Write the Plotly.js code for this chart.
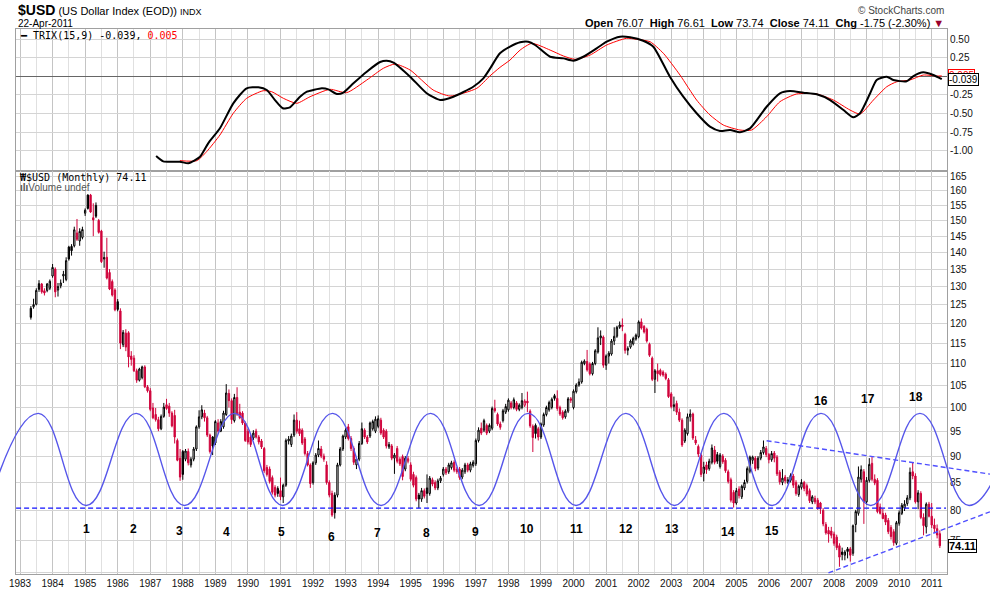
<!DOCTYPE html>
<html><head><meta charset="utf-8">
<script src="https://cdn.plot.ly/plotly-3.0.1.min.js"></script>
<style>html,body{margin:0;padding:0;background:#fff}#chart{width:990px;height:591px}</style>
</head><body><div id="chart"></div>
<script>
// ---------- DATA ----------
const firstYear = 1983, firstMonth = 5; // first monthly candle: May 1983, last: April 2011
const opens = [
 124.0,124.4,125.1,130.8,130.7,128.8,128.9,129.5,
 133.0,135.0,129.0,130.2,133.0,132.0,141.6,141.8,142.0,146.0,143.5,144.6,
 152.4,158.5,158.5,150.9,155.0,150.0,146.6,138.0,138.5,134.0,131.4,129.0,
 125.8,123.3,114.6,117.5,117.6,111.8,111.3,108.3,106.1,106.7,109.2,104.6,
 103.7,99.9,98.5,97.4,95.5,98.1,100.6,100.3,98.8,98.3,93.1,89.6,
 90.9,89.4,90.9,88.3,89.4,91.4,95.9,98.0,98.8,97.8,94.2,93.8,
 92.6,96.7,95.0,95.9,98.5,103.1,101.5,97.2,102.2,99.0,98.8,96.7,
 95.0,93.8,93.6,95.0,93.8,93.0,91.5,87.8,87.5,85.9,84.1,83.9,
 83.5,82.4,84.5,93.0,92.3,94.2,97.3,95.5,95.2,93.4,90.5,88.3,
 85.0,88.7,90.2,91.4,90.0,88.3,85.0,83.0,82.7,82.7,88.3,91.4,
 93.8,95.9,93.5,91.5,88.3,89.4,92.5,95.2,93.8,94.0,95.5,95.0,
 96.0,97.3,95.2,95.0,91.8,92.0,89.6,91.5,89.4,89.9,87.5,89.0,
 88.3,86.5,85.9,82.7,82.0,83.5,84.0,83.0,85.5,85.0,84.0,85.3,
 86.5,87.5,87.0,87.8,88.8,87.5,87.5,86.0,87.0,88.3,87.3,88.2,
 88.5,93.1,95.6,95.2,96.2,95.0,95.6,99.8,98.5,96.5,97.2,99.0,
 99.5,101.0,100.0,101.0,99.6,100.0,100.5,101.4,99.2,96.0,96.2,95.5,
 93.8,96.3,98.5,99.5,100.0,102.6,102.0,100.0,99.0,98.0,99.2,101.9,
 100.0,103.5,105.0,105.7,110.0,110.5,109.9,107.6,110.0,112.8,116.3,116.5,
 109.6,111.8,112.3,115.5,116.7,119.0,119.6,117.2,113.2,114.0,114.8,116.0,
 116.6,120.4,119.2,118.5,114.7,111.3,106.3,108.3,108.4,108.0,107.5,106.2,
 103.0,100.2,100.9,99.0,97.3,93.0,94.5,98.0,98.6,93.2,91.9,90.2,
 86.7,88.3,87.6,88.8,91.2,90.3,88.0,90.0,89.2,87.0,85.5,83.2,
 81.3,83.8,82.4,84.0,85.2,87.1,89.2,89.6,87.7,89.6,90.7,91.5,
 90.3,89.3,90.6,89.8,86.9,85.0,86.0,85.0,85.4,86.2,85.0,82.8,
 84.1,85.0,84.4,83.5,81.5,82.1,81.8,81.3,80.0,77.6,76.6,76.5,
 76.0,75.5,74.1,73.1,72.6,73.6,73.6,72.9,77.6,79.5,85.6,87.0,
 81.5,85.4,88.6,85.6,85.4,80.6,79.5,79.2,78.3,77.1,76.4,74.5,
 77.8,79.5,80.4,81.2,82.2,87.0,86.2,81.5,83.0,78.8,77.2,81.1,
 79.0,77.5,76.9,76.07];
const highs = [
 124.6,126.6,129.5,131.8,131.0,129.5,131.0,132.0,
 136.5,135.5,131.0,132.0,134.5,138.5,142.0,142.5,148.0,150.5,147.5,148.0,
 154.0,158.8,158.9,155.7,156.0,150.5,147.0,140.2,144.5,135.0,132.0,129.5,
 126.5,124.0,118.3,118.5,118.0,113.0,112.0,108.8,109.0,109.5,109.6,105.0,
 104.3,101.0,99.9,98.0,98.5,101.0,101.9,101.0,99.2,99.5,93.5,91.4,
 91.2,91.4,91.5,89.8,91.8,96.2,99.4,100.5,99.5,98.2,94.5,94.0,
 97.3,97.5,97.5,99.3,105.2,104.0,102.0,103.0,104.5,100.8,99.2,97.0,
 95.5,94.3,95.2,95.5,94.2,93.4,91.8,88.3,88.0,86.3,84.5,84.3,
 85.9,84.8,93.5,94.0,94.5,98.5,99.0,97.2,95.6,93.8,91.0,88.6,
 89.0,90.6,93.1,92.0,90.5,89.0,85.4,83.5,83.2,88.7,91.8,94.3,
 95.6,96.5,94.0,91.9,89.8,93.0,96.8,95.6,94.2,97.0,97.4,98.1,
 98.3,97.8,95.6,95.4,92.8,92.4,90.6,92.0,89.8,90.3,90.0,90.0,
 88.8,87.0,86.3,83.1,84.0,83.9,86.5,86.2,85.9,85.4,85.7,86.2,
 87.9,87.9,88.7,89.1,89.2,87.9,87.9,87.7,88.7,88.7,88.9,89.2,
 93.5,95.8,96.8,97.6,96.6,96.6,100.2,101.7,98.9,97.0,99.7,100.8,
 102.0,101.4,102.2,101.4,100.9,103.2,101.8,103.5,99.6,96.4,96.6,95.9,
 96.8,98.9,100.4,101.5,102.2,103.0,103.8,100.4,99.4,99.6,102.3,102.3,
 104.0,105.4,106.5,110.7,111.0,113.3,110.3,110.4,113.5,119.0,118.2,116.9,
 112.2,113.0,116.0,119.0,119.4,120.5,121.3,117.6,114.2,115.9,116.6,117.4,
 120.8,121.3,119.6,118.9,115.1,111.7,108.7,110.0,108.8,108.4,107.9,106.6,
 103.4,102.4,101.5,99.8,97.7,95.6,98.7,99.6,98.9,94.0,92.3,90.6,
 88.9,88.9,89.5,92.3,92.0,90.8,90.6,90.4,89.6,87.4,85.9,83.6,
 84.0,84.3,84.6,85.5,88.0,90.1,90.1,90.0,90.0,91.2,93.1,92.0,
 90.6,91.0,91.0,90.2,87.3,87.5,86.4,86.0,86.7,86.6,85.4,84.6,
 85.6,85.3,84.8,83.9,82.7,82.6,82.2,81.5,80.4,78.0,77.2,77.2,
 76.4,75.9,74.5,73.8,73.4,73.9,73.9,77.6,80.1,88.0,88.2,87.5,
 86.0,89.6,89.9,86.5,85.8,81.2,80.3,79.6,78.7,77.5,76.8,78.2,
 80.0,81.3,81.8,82.7,87.8,88.7,86.7,83.6,83.4,79.5,81.4,81.5,
 81.3,78.6,77.6,76.61];
const lows = [
 121.0,123.9,124.8,128.5,128.0,127.5,128.4,129.0,
 132.5,127.0,127.2,129.5,131.0,131.5,137.5,139.0,141.5,143.5,142.0,144.0,
 151.5,153.6,152.5,145.0,150.8,145.8,136.8,135.4,132.0,129.0,127.2,123.2,
 123.2,113.5,114.0,113.0,109.1,109.5,108.0,105.5,105.8,106.3,104.3,103.3,
 99.2,97.5,97.0,95.0,95.2,97.8,99.5,98.0,95.8,92.5,89.0,85.3,
 85.5,89.0,88.2,87.8,89.0,91.0,95.5,97.5,97.0,93.8,90.5,90.2,
 92.2,94.5,94.8,95.5,98.2,100.0,96.5,96.8,98.2,97.5,96.3,92.8,
 92.3,91.8,93.2,93.5,92.3,91.4,86.8,86.1,84.8,82.8,82.3,82.4,
 81.8,81.3,84.2,92.3,91.8,93.8,94.5,94.0,92.2,90.1,88.0,84.0,
 84.6,88.3,89.8,89.6,88.9,84.6,82.3,78.9,78.6,82.3,88.0,91.0,
 93.4,93.1,91.0,88.3,87.5,89.0,92.2,93.4,92.4,93.6,95.1,94.6,
 95.6,94.2,93.4,91.5,91.4,89.2,86.6,88.6,88.1,85.4,87.1,88.6,
 85.2,84.1,81.6,80.4,81.5,82.1,81.3,82.6,84.3,83.6,83.6,84.9,
 86.1,86.4,86.6,87.4,86.9,86.6,85.5,85.6,86.6,86.9,86.9,87.8,
 88.1,92.7,94.2,94.8,94.2,94.6,95.2,98.9,96.1,95.3,96.8,98.6,
 99.1,99.6,99.6,99.2,99.2,99.6,100.1,99.0,95.7,90.8,93.5,93.1,
 93.4,95.9,98.1,99.1,99.6,101.5,99.3,98.2,97.4,97.6,98.8,101.0,
 99.6,103.1,104.6,105.3,109.6,108.1,107.2,107.2,109.6,112.4,114.5,109.0,
 108.5,110.0,111.9,114.5,116.3,118.6,118.0,112.4,112.0,113.6,114.4,115.6,
 116.2,118.4,117.4,115.1,111.6,105.9,103.2,105.8,107.0,106.9,106.1,102.1,
 99.8,99.2,98.4,96.9,91.8,92.6,94.1,97.0,93.2,92.2,89.8,86.0,
 85.2,86.6,87.2,88.4,88.4,88.5,87.6,88.5,86.8,84.8,81.4,80.5,
 81.0,82.1,82.0,83.6,84.8,86.7,88.5,87.1,87.3,89.2,90.3,89.8,
 88.6,88.9,88.8,86.2,84.6,84.5,84.8,84.7,85.0,84.0,82.6,82.4,
 83.7,83.4,82.5,81.3,81.1,81.1,80.1,79.4,77.3,75.9,74.6,75.3,
 74.1,73.4,70.8,71.8,71.8,72.1,71.6,72.5,76.3,79.1,85.0,77.7,
 81.0,85.0,85.2,84.5,79.5,79.3,78.5,77.5,76.0,75.1,74.1,74.2,
 77.4,79.2,79.9,80.8,81.8,85.6,81.2,80.2,78.5,75.8,76.1,78.8,
 77.0,76.2,75.3,73.74];
const closes = [
 121.6,125.0,128.9,129.2,128.5,128.2,130.7,131.5,
 135.5,128.5,130.0,131.0,133.5,137.5,138.0,140.5,147.0,144.0,146.5,147.1,
 153.4,154.0,152.8,150.2,151.4,146.2,137.2,138.4,132.4,129.3,127.6,123.6,
 123.7,115.0,117.7,114.0,111.6,111.0,108.3,106.1,108.7,109.2,104.6,103.7,
 99.6,97.8,97.4,95.5,98.1,100.1,99.8,98.8,96.1,93.8,89.2,86.0,
 86.5,91.0,88.7,89.4,91.4,95.9,98.0,99.5,97.8,94.2,90.9,92.0,
 97.0,95.0,97.0,98.8,103.2,101.5,97.4,102.2,98.6,97.8,96.7,93.1,
 92.8,92.3,94.6,93.8,92.8,91.8,87.2,86.5,85.2,83.2,82.7,83.0,
 82.4,84.5,93.1,93.4,94.0,97.3,95.0,94.5,92.6,90.5,88.3,84.8,
 88.7,90.2,91.5,90.0,89.4,85.0,82.7,79.2,79.6,88.3,91.4,94.0,
 95.2,93.5,91.5,88.8,89.4,92.5,95.5,93.8,92.8,96.7,97.0,97.5,
 97.6,94.6,93.8,92.0,92.3,89.6,90.2,89.0,88.5,86.1,89.6,89.5,
 85.6,84.5,82.0,82.0,83.5,82.5,83.0,85.8,84.7,84.0,85.3,85.8,
 87.5,86.8,88.3,88.7,87.3,87.0,85.9,87.3,88.3,87.3,88.5,88.8,
 93.1,95.2,94.6,97.2,94.6,96.2,99.8,99.3,96.5,95.8,99.3,100.2,
 101.6,100.0,101.7,99.6,100.5,101.5,101.4,101.0,96.1,93.7,94.5,93.8,
 96.5,98.5,100.0,101.1,101.8,102.0,99.8,98.6,97.8,99.2,101.9,101.6,
 103.6,105.0,105.7,110.3,110.6,108.5,107.6,110.0,113.1,116.3,116.8,109.6,
 111.8,112.5,115.5,116.7,119.0,119.6,119.2,113.2,113.7,115.5,116.2,117.0,
 120.4,118.8,117.8,115.5,112.0,106.3,108.3,107.6,107.4,107.3,106.5,102.4,
 100.2,100.6,99.0,97.3,92.2,95.2,98.0,98.6,93.6,92.6,90.4,86.5,
 87.9,87.4,89.0,91.6,88.8,89.0,90.2,88.9,87.2,85.2,81.8,81.3,
 83.5,82.6,84.3,85.0,87.6,89.8,89.8,87.6,89.6,90.7,91.8,90.3,
 89.3,90.5,89.6,86.6,85.1,85.8,85.3,85.5,86.3,84.5,83.0,84.3,
 85.0,83.9,82.9,81.7,82.4,81.5,80.4,80.3,77.7,76.2,76.0,75.8,
 74.5,73.8,72.3,72.7,73.1,73.2,72.6,77.4,79.8,86.0,87.4,81.5,
 85.4,88.4,85.6,84.9,79.8,79.5,78.6,78.0,76.4,75.6,74.6,77.9,
 79.6,80.9,81.1,82.2,86.9,86.2,81.5,83.1,78.8,77.4,81.1,79.0,
 77.5,76.9,75.86,74.11];

// TRIX(15) line and its 9-period signal (upper panel)
const trixYears = [1987.18,1987.40,1987.91,1988.17,1988.53,1988.78,1989.14,1989.55,1989.96,1990.32,
 1990.58,1990.83,1991.07,1991.29,1991.60,1991.81,1992.01,1992.27,1992.47,1992.73,
 1992.93,1993.24,1993.65,1994.06,1994.26,1994.47,1994.98,1995.49,1995.90,1996.31,
 1996.92,1997.23,1997.43,1997.74,1998.05,1998.36,1998.61,1998.82,1999.28,1999.69,
 1999.99,2000.30,2000.71,2001.02,2001.43,2001.74,2002.14,2002.45,2002.96,2003.37,
 2003.78,2004.19,2004.50,2004.81,2005.11,2005.42,2005.93,2006.34,2006.65,2007.06,
 2007.47,2007.88,2008.29,2008.59,2008.80,2009.11,2009.31,2009.62,2009.82,2010.23,
 2010.44,2010.74,2011.05,2011.31];
const trixValues = [-1.071,-1.143,-1.148,-1.169,-1.081,-0.901,-0.699,-0.363,-0.161,-0.148,
 -0.184,-0.319,-0.430,-0.417,-0.274,-0.207,-0.184,-0.161,-0.175,-0.238,
 -0.220,-0.094,0.062,0.192,0.210,0.184,-0.005,-0.228,-0.318,-0.274,
 -0.140,-0.027,0.100,0.309,0.398,0.457,0.465,0.421,0.263,0.241,
 0.210,0.263,0.376,0.465,0.532,0.524,0.478,0.398,-0.005,-0.274,
 -0.497,-0.677,-0.735,-0.722,-0.753,-0.700,-0.409,-0.228,-0.198,-0.220,
 -0.242,-0.319,-0.453,-0.551,-0.497,-0.228,-0.050,-0.005,-0.050,-0.067,
 0.004,0.054,0.018,-0.039];
const signalYears = [1987.91,1988.43,1988.73,1989.14,1989.55,1989.96,1990.47,1990.73,1991.09,1991.50,
 1991.91,1992.52,1993.03,1993.65,1994.16,1994.52,1994.98,1995.69,1996.21,1997.03,
 1997.43,1997.74,1998.05,1998.36,1998.72,1999.28,1999.69,2000.05,2000.51,2001.02,
 2001.63,2001.94,2002.35,2002.76,2003.27,2003.78,2004.19,2004.60,2005.11,2005.47,
 2005.93,2006.34,2006.85,2007.47,2007.98,2008.49,2008.80,2009.21,2009.62,2009.93,
 2010.33,2010.74,2011.15,2011.31];
const signalValues = [-1.134,-1.134,-1.013,-0.789,-0.497,-0.296,-0.194,-0.207,-0.296,-0.363,
 -0.274,-0.175,-0.220,-0.050,0.108,0.165,0.085,-0.184,-0.265,-0.161,
 0.004,0.120,0.219,0.353,0.443,0.353,0.273,0.228,0.286,0.421,
 0.511,0.497,0.465,0.309,0.017,-0.319,-0.520,-0.655,-0.722,-0.722,
 -0.543,-0.341,-0.238,-0.238,-0.319,-0.453,-0.507,-0.319,-0.140,-0.073,
 -0.050,0.017,0.004,0.005];

// hand-drawn cycle curve: successive troughs and crests
const cycleYears = [1982.03,1983.56,1985.03,1986.57,1988.05,1989.59,1991.07,1992.60,1994.09,1995.61,
 1997.10,1998.61,2000.08,2001.61,2003.10,2004.62,2006.10,2007.60,2009.13,2010.64,2012.15,2013.66];
const cycleValues = [80.87,98.74,80.87,98.74,80.87,98.74,80.87,98.74,80.87,98.74,
 80.87,98.74,80.87,98.74,80.87,98.74,80.87,98.74,80.87,98.74,80.87,98.74];

// dashed trend lines
const supportYears = [1982.88, 2011.44], supportValues = [80.4, 80.4];
const upperTrendYears = [2005.93, 2012.79], upperTrendValues = [93.05, 86.56];
const lowerTrendYears = [2007.83, 2012.79], lowerTrendValues = [69.87, 79.76];

// cycle labels
const cycleLabels = ['1','2','3','4','5','6','7','8','9','10','11','12','13','14','15','16','17','18'];
const cycleLabelYears = [1985.03,1986.50,1987.91,1989.33,1991.02,1992.57,1993.99,1995.49,1997.00,
 1998.58,2000.08,2001.60,2003.02,2004.75,2006.09,2007.59,2009.03,2010.51];
const cycleLabelValues = [76.9,76.8,76.5,76.4,76.4,75.5,76.1,76.1,76.3,76.85,76.9,76.85,76.9,76.4,76.5,101.5,101.8,102.2];

const priceTicks = [70,75,80,85,90,95,100,105,110,115,120,125,130,135,140,145,150,155,160,165];
const trixTicks = [-1,-0.75,-0.5,-0.25,0,0.25,0.5];
const yearTicks = [];
for (let y = 1983; y <= 2011; y++) yearTicks.push(y);

// ---------- BUILD ----------
const RED = '#d0043c';
const monthX = closes.map((_, i) => firstYear + (firstMonth - 1 + i) / 12);
const blk = {x:[],o:[],h:[],l:[],c:[]}, red = {x:[],o:[],h:[],l:[],c:[]};
closes.forEach((c, i) => {
  const g = (i > 0 && c < closes[i-1]) ? red : blk;
  g.x.push(monthX[i]); g.o.push(opens[i]); g.h.push(highs[i]); g.l.push(lows[i]); g.c.push(c);
});
function candle(g, col, upFill, downFill) {
  return {type:'candlestick', x:g.x, open:g.o, high:g.h, low:g.l, close:g.c,
    xaxis:'x', yaxis:'y2', whiskerwidth:0, hoverinfo:'skip', showlegend:false,
    increasing:{line:{color:col,width:1}, fillcolor:upFill},
    decreasing:{line:{color:col,width:1}, fillcolor:downFill}};
}
const traces = [
  candle(blk, '#000000', '#ffffff', '#000000'),
  candle(red, RED, '#ffffff', RED),
  {type:'scatter', mode:'lines', x:signalYears, y:signalValues, xaxis:'x', yaxis:'y',
   line:{color:'#ff0000', width:1, shape:'spline', smoothing:0.6}, hoverinfo:'skip', showlegend:false},
  {type:'scatter', mode:'lines', x:trixYears, y:trixValues, xaxis:'x', yaxis:'y',
   line:{color:'#000000', width:2, shape:'spline', smoothing:0.6}, hoverinfo:'skip', showlegend:false},
  {type:'scatter', mode:'lines', x:cycleYears, y:cycleValues, xaxis:'x3', yaxis:'y3',
   line:{color:'#5656ea', width:1.4, shape:'spline', smoothing:1.3}, hoverinfo:'skip', showlegend:false},
  {type:'scatter', mode:'lines', x:supportYears, y:supportValues, xaxis:'x3', yaxis:'y3',
   line:{color:'#1010ff', width:1.4, dash:'5px,3px'}, hoverinfo:'skip', showlegend:false},
  {type:'scatter', mode:'lines', x:upperTrendYears, y:upperTrendValues, xaxis:'x3', yaxis:'y3',
   line:{color:'#4f4fff', width:1.4, dash:'5px,3px'}, hoverinfo:'skip', showlegend:false},
  {type:'scatter', mode:'lines', x:lowerTrendYears, y:lowerTrendValues, xaxis:'x3', yaxis:'y3',
   line:{color:'#4f4fff', width:1.4, dash:'5px,3px'}, hoverinfo:'skip', showlegend:false}
];

// geometry (pixels of the 990x591 picture)
const W = 990, H = 591;
const px = v => v / W, py = v => 1 - v / H;
const xDom = [px(16), px(947)];
const trixDom = [py(170.7), py(29.3)];
const mainDom = [py(574), py(171)];
const priceRange = [Math.log10(69.7), Math.log10(167.0)];
const axFont = {family:'Liberation Sans, Arial, sans-serif', size:10, color:'#111'};

const ann = [];
cycleLabels.forEach((t, i) => ann.push({xref:'x', yref:'y2', x:cycleLabelYears[i], y:Math.log10(cycleLabelValues[i]),
  text:'<b>'+t+'</b>', showarrow:false, font:{family:'Liberation Sans, Arial, sans-serif', size:12, color:'#000'}}));
const sans = 'Liberation Sans, Arial, sans-serif', mono = 'DejaVu Sans Mono, monospace';
ann.push(
  {xref:'paper', yref:'paper', x:px(16), y:py(10), xanchor:'left', yanchor:'middle', showarrow:false,
   text:"<b><span style='font-size:14px'>$USD</span></b> (US Dollar Index (EOD)) <span style='font-size:9px'>INDX</span>",
   font:{family:sans, size:11, color:'#000'}},
  {xref:'paper', yref:'paper', x:px(16), y:py(23), xanchor:'left', yanchor:'middle', showarrow:false,
   text:'22-Apr-2011', font:{family:sans, size:10, color:'#000'}},
  {xref:'paper', yref:'paper', x:px(946), y:py(10), xanchor:'right', yanchor:'middle', showarrow:false,
   text:'© StockCharts.com', font:{family:sans, size:10, color:'#444'}},
  {xref:'paper', yref:'paper', x:px(946), y:py(23), xanchor:'right', yanchor:'middle', showarrow:false,
   text:"<b>Open</b> 76.07  <b>High</b> 76.61  <b>Low</b> 73.74  <b>Close</b> 74.11  <b>Chg</b> -1.75 (-2.30%) <span style='color:#99002b'>▼</span>",
   font:{family:sans, size:11, color:'#000'}},
  {xref:'paper', yref:'paper', x:px(18), y:py(36), xanchor:'left', yanchor:'middle', showarrow:false,
   text:"<b>━</b> TRIX(15,9) -0.039, <span style='color:#ff0000'>0.005</span>",
   font:{family:mono, size:10, color:'#000'}},
  {xref:'paper', yref:'paper', x:px(18), y:py(177), xanchor:'left', yanchor:'middle', showarrow:false,
   text:"<b>₩</b>$USD (Monthly) 74.11", font:{family:mono, size:10, color:'#000'}},
  {xref:'paper', yref:'paper', x:px(18), y:py(187.5), xanchor:'left', yanchor:'middle', showarrow:false,
   text:"<b>ılı</b>Volume undef", font:{family:sans, size:10, color:'#555'}},
  {xref:'paper', yref:'y', x:px(948), y:0.005, xanchor:'left', yanchor:'middle', showarrow:false,
   text:'0.005', font:{family:sans, size:10, color:'#ff0000'}, bgcolor:'#fff', bordercolor:'#ff0000', borderwidth:1, borderpad:0},
  {xref:'paper', yref:'y', x:px(948), y:-0.039, xanchor:'left', yanchor:'middle', showarrow:false,
   text:'-0.039', font:{family:sans, size:10, color:'#000'}, bgcolor:'#fff', bordercolor:'#000', borderwidth:1, borderpad:0},
  {xref:'paper', yref:'y2', x:px(948), y:Math.log10(74.11), xanchor:'left', yanchor:'middle', showarrow:false,
   text:'<b>74.11</b>', font:{family:sans, size:11, color:'#000'}, bgcolor:'#fff', bordercolor:'#000', borderwidth:1, borderpad:0}
);

const layout = {
  width:W, height:H, margin:{l:0,r:0,t:0,b:0}, paper_bgcolor:'#fff', plot_bgcolor:'rgba(0,0,0,0)',
  showlegend:false, boxgap:0.3,
  xaxis:{domain:xDom, anchor:'y2', range:[1982.877, 2011.470], tickvals:yearTicks, tickformat:'d',
    ticks:'', tickfont:axFont,
    showgrid:true, gridcolor:'#c4c4c4', gridwidth:1, zeroline:false,
    minor:{dtick:0.5, tick0:1983, showgrid:true, gridcolor:'#e0e0e0', ticks:''},
    showline:true, mirror:'all', linecolor:'#a0a0a0', linewidth:1, rangeslider:{visible:false}, fixedrange:true},
  yaxis:{domain:trixDom, anchor:'x', side:'right', range:[-1.269, 0.632], tickvals:trixTicks,
    ticktext:['-1.00','-0.75','-0.50','-0.25','','0.25','0.50'], tickfont:axFont, ticks:'',
    showgrid:true, gridcolor:'#d4d4d4', zeroline:true, zerolinecolor:'#666', zerolinewidth:1,
    showline:true, mirror:true, linecolor:'#a0a0a0', fixedrange:true},
  yaxis2:{domain:mainDom, anchor:'x', side:'right', type:'log', range:priceRange, tickvals:priceTicks,
    ticktext:priceTicks.map(v => v === 70 ? '' : String(v)), tickfont:axFont, ticks:'',
    showgrid:true, gridcolor:'#d4d4d4', zeroline:false, showline:true, mirror:true, linecolor:'#a0a0a0', fixedrange:true},
  xaxis3:{domain:[0,1], anchor:'y3', range:[1982.3857, 2012.7912], visible:false, fixedrange:true},
  yaxis3:{domain:mainDom, anchor:'x3', type:'log', range:priceRange, visible:false, fixedrange:true},
  annotations:ann
};
Plotly.newPlot('chart', traces, layout, {staticPlot:true, displayModeBar:false});
</script>
</body></html>
